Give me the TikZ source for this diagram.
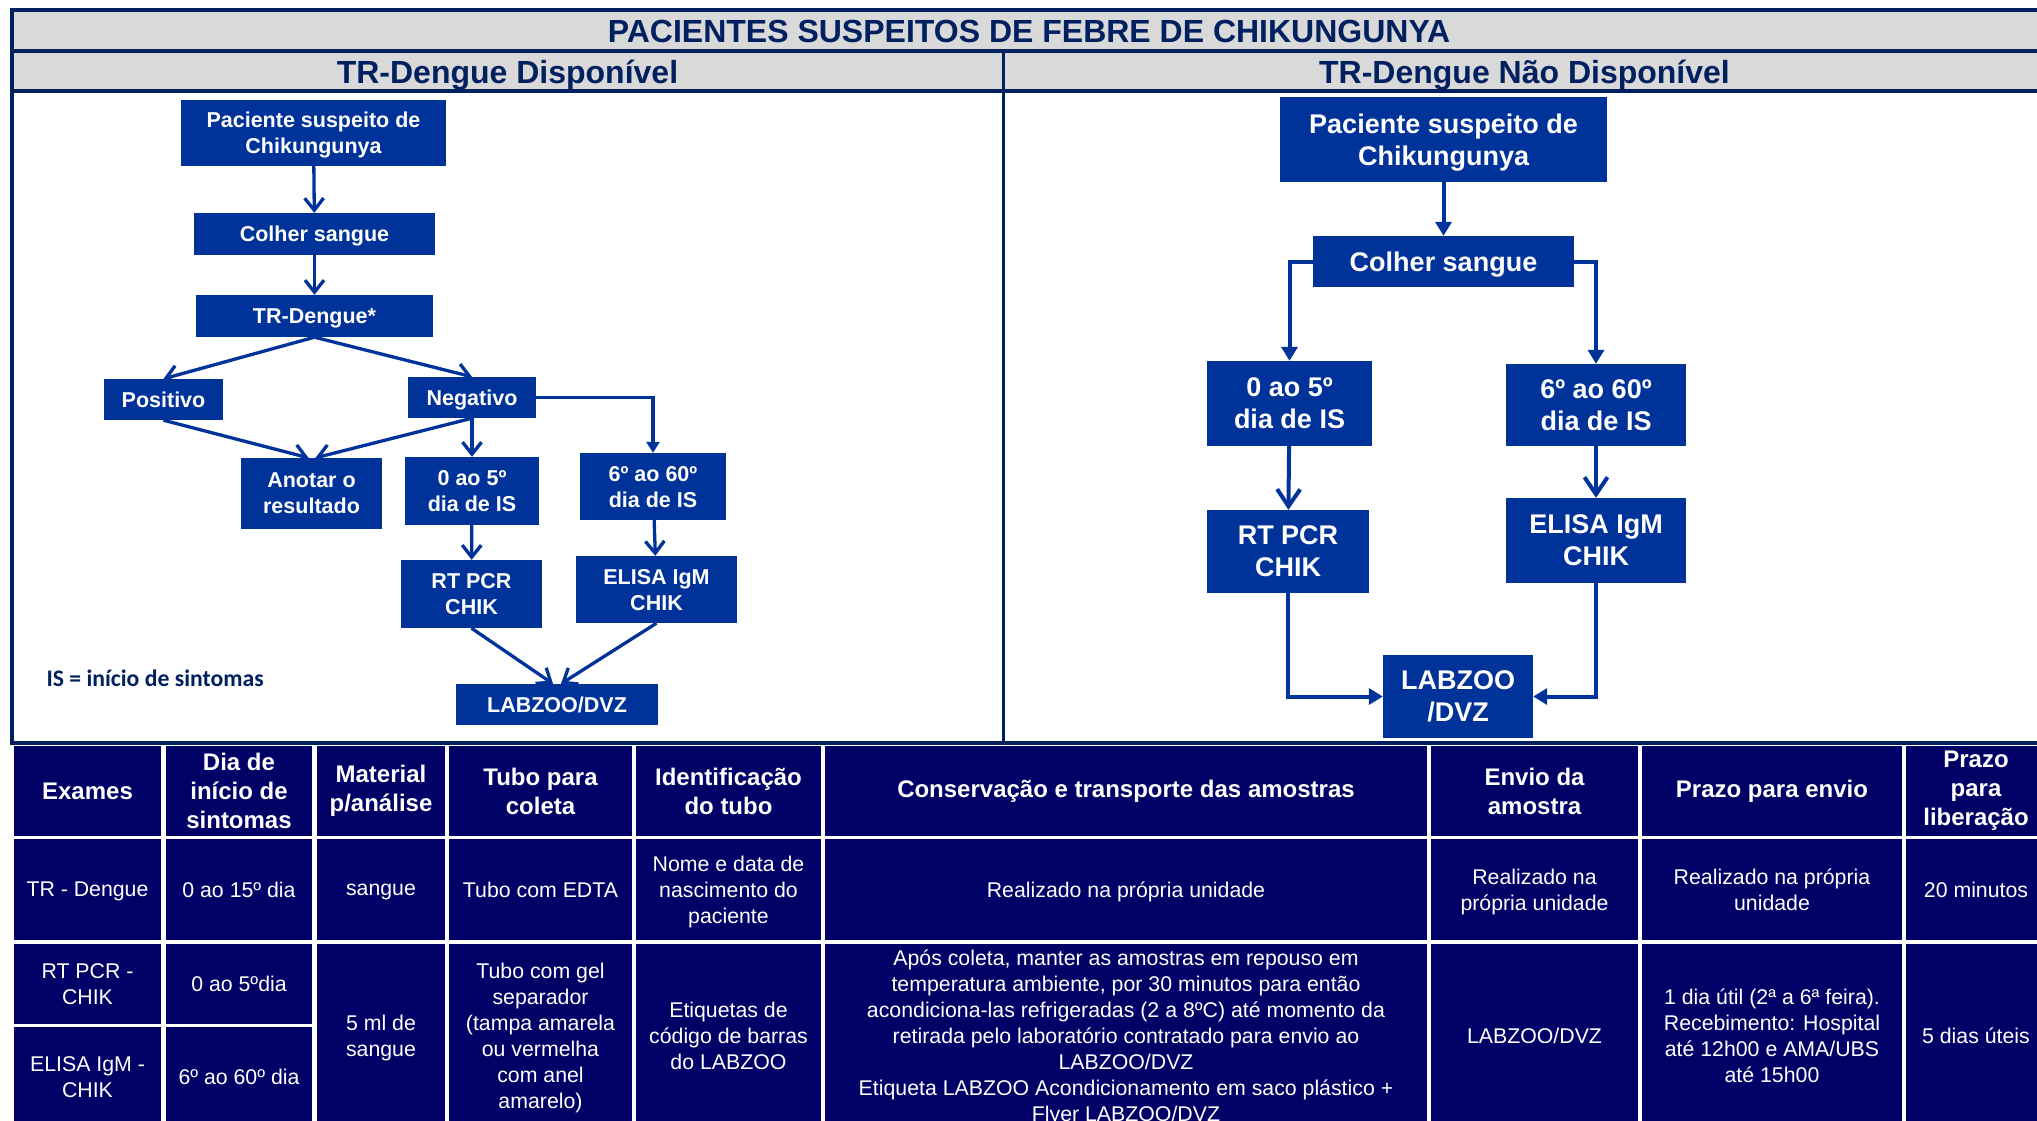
\documentclass[tikz,border=0pt]{standalone}
\usepackage{fontspec}
\setmainfont{Liberation Sans}
\newfontfamily\califont{Carlito}
\usepackage{xcolor}
\usepackage{tikz}
\usetikzlibrary{arrows.meta,positioning}

\definecolor{framenavy}{RGB}{0,32,96}
\definecolor{bandgray}{RGB}{217,217,217}
\definecolor{boxblue}{RGB}{0,51,153}
\definecolor{cellnavy}{RGB}{0,0,102}

\begin{document}
\begin{tikzpicture}[
    x=1pt, y=-1pt,
    bandtext/.style={text=framenavy, font=\fontsize{32}{38}\selectfont\bfseries, anchor=base},
    fbox/.style={rectangle, fill=boxblue, text=white, align=center, inner sep=0pt, text depth=0pt},
    lbox/.style={fbox, font=\fontsize{21.5}{26}\selectfont\bfseries},
    rbox/.style={fbox, font=\fontsize{27}{32}\selectfont\bfseries},
    lflow/.style={draw=boxblue, line width=3.3pt},
    rflow/.style={draw=boxblue, line width=4pt},
    lopen/.style={lflow, -{Straight Barb[length=12pt,width=19pt]}},
    lfull/.style={lflow, -{Triangle[length=11pt,width=13pt]}},
    ropen/.style={rflow, -{Straight Barb[length=17pt,width=23pt]}},
    rfull/.style={rflow, -{Triangle[length=14pt,width=16pt]}},
    hcell/.style={rectangle, fill=cellnavy, text=white, align=center, inner sep=0pt, font=\fontsize{24}{29}\selectfont\bfseries},
    bcell/.style={hcell, text depth=0pt, font=\fontsize{21.3}{26}\selectfont},
    rowh/.style={minimum height=90pt},
    rowa/.style={minimum height=101pt},
    rowb/.style={minimum height=80pt},
    rowc/.style={minimum height=100pt},
    rowm/.style={minimum height=183pt}
]

\useasboundingbox (0,0) rectangle (2037,1120);
\clip (0,0) rectangle (2037,1120);
\fill[white] (0,0) rectangle (2037,1120);

% frame and header bands
\fill[bandgray] (12,10) rectangle (2050,91);
\draw[framenavy, line width=4pt] (12,10) rectangle (2050,743);
\draw[framenavy, line width=4pt] (12,51) -- (2050,51);
\draw[framenavy, line width=4pt] (12,91) -- (2050,91);
\draw[framenavy, line width=3pt] (1003,51) -- (1003,743);

\node[bandtext] (title) at (1029,42) {PACIENTES SUSPEITOS DE FEBRE DE CHIKUNGUNYA};
\node[bandtext] (subleft) at (507.5,83) {TR-Dengue Disponível};
\node[bandtext] (subright) at (1524.5,83) {TR-Dengue Não Disponível};

% TR-Dengue disponivel
\node[lbox, minimum width=265pt, minimum height=66pt] (lpac) at (313.5,133) {Paciente suspeito de\\Chikungunya};
\node[lbox, minimum width=241pt, minimum height=42pt] (lcol) at (314.5,234) {Colher sangue};
\node[lbox, minimum width=237pt, minimum height=42pt] (ltr) at (314.5,316) {TR-Dengue*};
\node[lbox, minimum width=119pt, minimum height=41pt] (lpos) at (163.5,399.5) {Positivo};
\node[lbox, minimum width=128pt, minimum height=41pt] (lneg) at (472,397.5) {Negativo};
\node[lbox, minimum width=141pt, minimum height=71pt] (lano) at (311.5,493.5) {Anotar o\\resultado};
\node[lbox, minimum width=134pt, minimum height=68pt] (lfive) at (472,491) {0 ao 5º\\dia de IS};
\node[lbox, minimum width=146pt, minimum height=67pt] (lsix) at (653,486.5) {6º ao 60º\\dia de IS};
\node[lbox, minimum width=141pt, minimum height=68pt] (lrt) at (471.5,594) {RT PCR\\CHIK};
\node[lbox, minimum width=161pt, minimum height=67pt] (leli) at (656.5,589.5) {ELISA IgM\\CHIK};
\node[lbox, minimum width=202pt, minimum height=41pt] (llab) at (557,704.5) {LABZOO/DVZ};
\node[anchor=west, text=framenavy, font=\califont\fontsize{23.7}{28}\selectfont\bfseries] (isnote) at (43,678) {IS = início de sintomas};

\draw[lopen] (lpac) -- (lcol);
\draw[lopen] (lcol) -- (ltr);
\draw[lopen] (ltr.south) -- (lpos.north);
\draw[lopen] (ltr.south) -- (lneg.north);
\draw[lopen] (lpos.south) -- ([xshift=-3pt]lano.north);
\draw[lopen] (lneg.south) -- ([xshift=4pt]lano.north);
\draw[lopen] (lneg) -- (lfive);
\draw[lfull] (lneg.east) -| (lsix.north);
\draw[lopen] (lfive) -- (lrt);
\draw[lopen] (lsix) -- (leli);
\draw[lopen] (lrt.south) -- ([xshift=-4pt]llab.north);
\draw[lopen] (leli.south) -- ([xshift=4pt]llab.north);

% TR-Dengue nao disponivel
\node[rbox, minimum width=327pt, minimum height=85pt] (rpac) at (1443.5,139.5) {Paciente suspeito de\\Chikungunya};
\node[rbox, minimum width=261pt, minimum height=51pt] (rcol) at (1443.5,261.5) {Colher sangue};
\node[rbox, minimum width=165pt, minimum height=85pt] (rfive) at (1289.5,403.5) {0 ao 5º\\dia de IS};
\node[rbox, minimum width=180pt, minimum height=82pt] (rsix) at (1596,405) {6º ao 60º\\dia de IS};
\node[rbox, minimum width=162pt, minimum height=83pt] (rrt) at (1288,551.5) {RT PCR\\CHIK};
\node[rbox, minimum width=180pt, minimum height=85pt] (reli) at (1596,540.5) {ELISA IgM\\CHIK};
\node[rbox, minimum width=150pt, minimum height=83pt] (rlab) at (1458,696.5) {LABZOO\\/DVZ};

\draw[rfull] (rpac) -- (rcol);
\draw[rfull] (rcol.west) -| (rfive.north);
\draw[rfull] (rcol.east) -| (rsix.north);
\draw[ropen] (rfive) -- (rrt);
\draw[ropen] (rsix) -- (reli);
\draw[rfull] (rrt.south) |- (rlab.west);
\draw[rfull] (reli.south) |- (rlab.east);

% tabela
\node[hcell, rowh, minimum width=147pt] (hexa) at (87.5,791) {Exames};
\node[hcell, rowh, minimum width=146pt] (hdia) at (239,791) {Dia de\\início de\\sintomas};
\node[hcell, rowh, minimum width=128pt] (hmat) at (381,791) {Material\\p/análise};
\node[hcell, rowh, minimum width=183pt] (htub) at (540.5,791) {Tubo para\\coleta};
\node[hcell, rowh, minimum width=185pt] (hide) at (728.5,791) {Identificação\\do tubo};
\node[hcell, rowh, minimum width=602pt] (hcon) at (1126,791) {Conservação e transporte das amostras};
\node[hcell, rowh, minimum width=207pt] (henv) at (1534.5,791) {Envio da\\amostra};
\node[hcell, rowh, minimum width=260pt] (hpra) at (1772,791) {Prazo para envio};
\node[hcell, rowh, minimum width=140pt] (hlib) at (1976,791) {Prazo\\para\\liberação};

\node[bcell, rowa, minimum width=147pt] (texa) at (87.5,889.5) {TR - Dengue};
\node[bcell, rowa, minimum width=146pt] (tdia) at (239,889.5) {0 ao 15º dia};
\node[bcell, rowa, minimum width=128pt] (tmat) at (381,889.5) {sangue};
\node[bcell, rowa, minimum width=183pt] (ttub) at (540.5,889.5) {Tubo com EDTA};
\node[bcell, rowa, minimum width=185pt] (tide) at (728.5,889.5) {Nome e data de\\nascimento do\\paciente};
\node[bcell, rowa, minimum width=602pt] (tcon) at (1126,889.5) {Realizado na própria unidade};
\node[bcell, rowa, minimum width=207pt] (tenv) at (1534.5,889.5) {Realizado na\\própria unidade};
\node[bcell, rowa, minimum width=260pt] (tpra) at (1772,889.5) {Realizado na própria\\unidade};
\node[bcell, rowa, minimum width=140pt] (tlib) at (1976,889.5) {20 minutos};

\node[bcell, rowb, minimum width=147pt] (pexa) at (87.5,984) {RT PCR -\\CHIK};
\node[bcell, rowb, minimum width=146pt] (pdia) at (239,984) {0 ao 5ºdia};
\node[bcell, rowc, minimum width=147pt] (eexa) at (87.5,1077) {ELISA IgM -\\CHIK};
\node[bcell, rowc, minimum width=146pt] (edia) at (239,1077) {6º ao 60º dia};

\node[bcell, rowm, minimum width=128pt] (mmat) at (381,1035.5) {5 ml de\\sangue};
\node[bcell, rowm, minimum width=183pt] (mtub) at (540.5,1035.5) {Tubo com gel\\separador\\(tampa amarela\\ou vermelha\\com anel\\amarelo)};
\node[bcell, rowm, minimum width=185pt] (mide) at (728.5,1035.5) {Etiquetas de\\código de barras\\do LABZOO};
\node[bcell, rowm, minimum width=602pt] (mcon) at (1126,1035.5) {Após coleta, manter as amostras em repouso em\\temperatura ambiente, por 30 minutos para então\\acondiciona-las refrigeradas (2 a 8ºC) até momento da\\retirada pelo laboratório contratado para envio ao\\LABZOO/DVZ\\Etiqueta LABZOO Acondicionamento em saco plástico +\\Flyer LABZOO/DVZ};
\node[bcell, rowm, minimum width=207pt] (menv) at (1534.5,1035.5) {LABZOO/DVZ};
\node[bcell, rowm, minimum width=260pt] (mpra) at (1772,1035.5) {1 dia útil (2ª a 6ª feira).\\Recebimento: Hospital\\até 12h00 e AMA/UBS\\até 15h00};
\node[bcell, rowm, minimum width=140pt] (mlib) at (1976,1035.5) {5 dias úteis};

\end{tikzpicture}
\end{document}
